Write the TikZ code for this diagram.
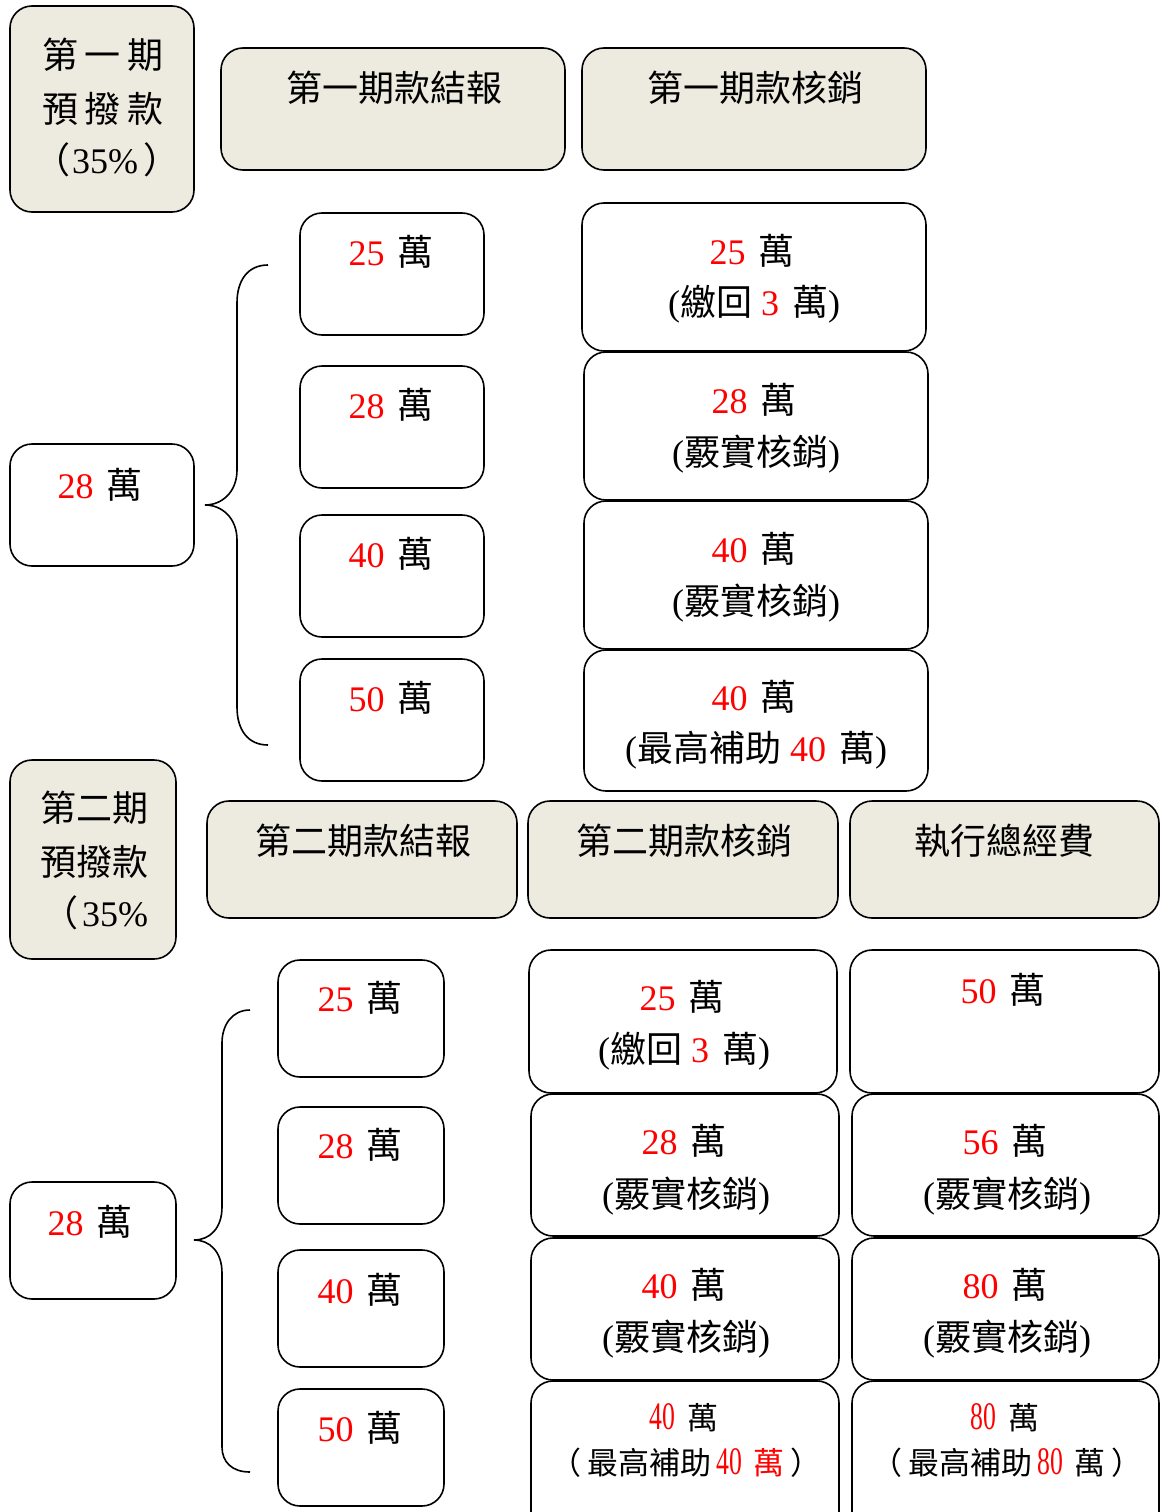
\documentclass[tikz,border=0pt]{standalone}
\usepackage{fontspec}
\setmainfont{Liberation Serif}
\newfontfamily\cjk{Noto Sans CJK TC}
\usetikzlibrary{fit}
\definecolor{beige}{RGB}{237,235,224}
\definecolor{numred}{RGB}{255,0,0}
\newcommand\rn[1]{\textcolor{numred}{#1}}
\newcommand\wan{{\hspace{4pt}\cjk 萬}}
\newcommand\nrw[1]{{\fontsize{39}{40}\selectfont\scalebox{0.66}[1]{#1}}}
\begin{document}
\begin{tikzpicture}[x=1pt,y=-1pt,
  box/.style={draw, line width=1.6pt, rounded corners=22pt, inner sep=0pt},
  hd/.style={box, fill=beige},
  wb/.style={box, fill=white},
  lbl/.style={font=\fontsize{36}{40}\selectfont, inner sep=0pt},
  sml/.style={font=\fontsize{31}{34}\selectfont, inner sep=0pt},
  brace/.style={line width=1.6pt}]
\useasboundingbox (0,0) rectangle (1161,1512);
\clip (0,0) rectangle (1161,1512);

% ---------- Section 1 ----------
\node[hd, fit={(10,6)(194,212)}] (p1) {};
\node[lbl] (p1a) at (103,55) {\cjk 第\hspace{7pt}一\hspace{7pt}期};
\node[lbl] (p1b) at (103,109) {\cjk 預\hspace{7pt}撥\hspace{7pt}款};
\node[lbl] (p1c) at (107,160) {{\cjk （}\hspace{2pt}35\%\hspace{6pt}{\cjk ）}};

\node[hd, fit={(221,48)(565,170)}] (r1) {};
\node[lbl] (r1t) at (394,88) {\cjk 第一期款結報};
\node[hd, fit={(582,48)(926,170)}] (h1) {};
\node[lbl] (h1t) at (755,88) {\cjk 第一期款核銷};

\node[wb, fit={(300,213)(484,335)}] (a1) {};
\node[lbl] (a1t) at (391,252) {\rn{25} \wan};
\node[wb, fit={(300,366)(484,488)}] (a2) {};
\node[lbl] (a2t) at (391,405) {\rn{28} \wan};
\node[wb, fit={(300,515)(484,637)}] (a3) {};
\node[lbl] (a3t) at (391,554) {\rn{40} \wan};
\node[wb, fit={(300,659)(484,781)}] (a4) {};
\node[lbl] (a4t) at (391,698) {\rn{50} \wan};

\node[wb, fit={(582,203)(926,351)}] (c1) {};
\node[lbl] (c1a) at (752,251) {\rn{25} \wan};
\node[lbl] (c1b) at (754,304) {({\cjk 繳回} \rn{3} \wan)};
\node[wb, fit={(584,352)(928,500)}] (c2) {};
\node[lbl] (c2a) at (754,400) {\rn{28} \wan};
\node[lbl] (c2b) at (756,454) {({\cjk 覈實核銷})};
\node[wb, fit={(584,501)(928,649)}] (c3) {};
\node[lbl] (c3a) at (754,549) {\rn{40} \wan};
\node[lbl] (c3b) at (756,603) {({\cjk 覈實核銷})};
\node[wb, fit={(584,650)(928,791)}] (c4) {};
\node[lbl] (c4a) at (754,697) {\rn{40} \wan};
\node[lbl] (c4b) at (756,750) {({\cjk 最高補助} \rn{40} \wan)};

\node[wb, fit={(10,444)(194,566)}] (l1) {};
\node[lbl] (l1t) at (100,485) {\rn{28} \wan};

\draw[brace] (268,265) .. controls (248,265) and (237,280) .. (237,303)
  -- (237,470) .. controls (237,492) and (222,505) .. (205,505)
  .. controls (222,505) and (237,518) .. (237,540)
  -- (237,707) .. controls (237,730) and (248,745) .. (268,745);

% ---------- Section 2 ----------
\node[hd, fit={(10,760)(176,959)}] (p2) {};
\node[lbl] (p2a) at (94,808) {\cjk 第二期};
\node[lbl] (p2b) at (94,862) {\cjk 預撥款};
\node[lbl] (p2c) at (95,913) {{\cjk （}\hspace{4pt}35\%};

\node[hd, fit={(207,801)(517,918)}] (r2) {};
\node[lbl] (r2t) at (363,841) {\cjk 第二期款結報};
\node[hd, fit={(528,801)(838,918)}] (h2) {};
\node[lbl] (h2t) at (684,841) {\cjk 第二期款核銷};
\node[hd, fit={(850,801)(1159,918)}] (t2) {};
\node[lbl] (t2t) at (1004,841) {\cjk 執行總經費};

\node[wb, fit={(278,960)(444,1077)}] (b1) {};
\node[lbl] (b1t) at (360,998) {\rn{25} \wan};
\node[wb, fit={(278,1107)(444,1224)}] (b2) {};
\node[lbl] (b2t) at (360,1145) {\rn{28} \wan};
\node[wb, fit={(278,1250)(444,1367)}] (b3) {};
\node[lbl] (b3t) at (360,1290) {\rn{40} \wan};
\node[wb, fit={(278,1389)(444,1506)}] (b4) {};
\node[lbl] (b4t) at (360,1428) {\rn{50} \wan};

\node[wb, fit={(529,950)(837,1093)}] (d1) {};
\node[lbl] (d1a) at (682,997) {\rn{25} \wan};
\node[lbl] (d1b) at (684,1051) {({\cjk 繳回} \rn{3} \wan)};
\node[wb, fit={(531,1094)(839,1236)}] (d2) {};
\node[lbl] (d2a) at (684,1141) {\rn{28} \wan};
\node[lbl] (d2b) at (686,1196) {({\cjk 覈實核銷})};
\node[wb, fit={(531,1238)(839,1380)}] (d3) {};
\node[lbl] (d3a) at (684,1285) {\rn{40} \wan};
\node[lbl] (d3b) at (686,1339) {({\cjk 覈實核銷})};
\node[wb, fit={(531,1381)(839,1545)}] (d4) {};
\node[sml] (d4a) at (684,1418) {\rn{\nrw{40}} \wan};
\node[sml] (d4b) at (686,1463) {{\cjk （}\hspace{6pt}{\cjk 最高補助}\,\rn{\nrw{40}} \rn{\wan}\hspace{6pt}{\cjk ）}};

\node[wb, fit={(850,950)(1159,1093)}] (e1) {};
\node[lbl] (e1a) at (1003,990) {\rn{50} \wan};
\node[wb, fit={(852,1094)(1159,1236)}] (e2) {};
\node[lbl] (e2a) at (1005,1141) {\rn{56} \wan};
\node[lbl] (e2b) at (1007,1196) {({\cjk 覈實核銷})};
\node[wb, fit={(852,1238)(1159,1380)}] (e3) {};
\node[lbl] (e3a) at (1005,1285) {\rn{80} \wan};
\node[lbl] (e3b) at (1007,1339) {({\cjk 覈實核銷})};
\node[wb, fit={(852,1381)(1159,1545)}] (e4) {};
\node[sml] (e4a) at (1005,1418) {\rn{\nrw{80}} \wan};
\node[sml] (e4b) at (1007,1463) {{\cjk （}\hspace{6pt}{\cjk 最高補助}\,\rn{\nrw{80}} \wan\hspace{6pt}{\cjk ）}};

\node[wb, fit={(10,1182)(176,1299)}] (l2) {};
\node[lbl] (l2t) at (90,1222) {\rn{28} \wan};

\draw[brace] (250,1010) .. controls (232,1010) and (222,1025) .. (222,1043)
  -- (222,1207) .. controls (222,1228) and (210,1240) .. (194,1240)
  .. controls (210,1240) and (222,1252) .. (222,1273)
  -- (222,1447) .. controls (222,1462) and (232,1472) .. (250,1472);
\end{tikzpicture}
\end{document}
